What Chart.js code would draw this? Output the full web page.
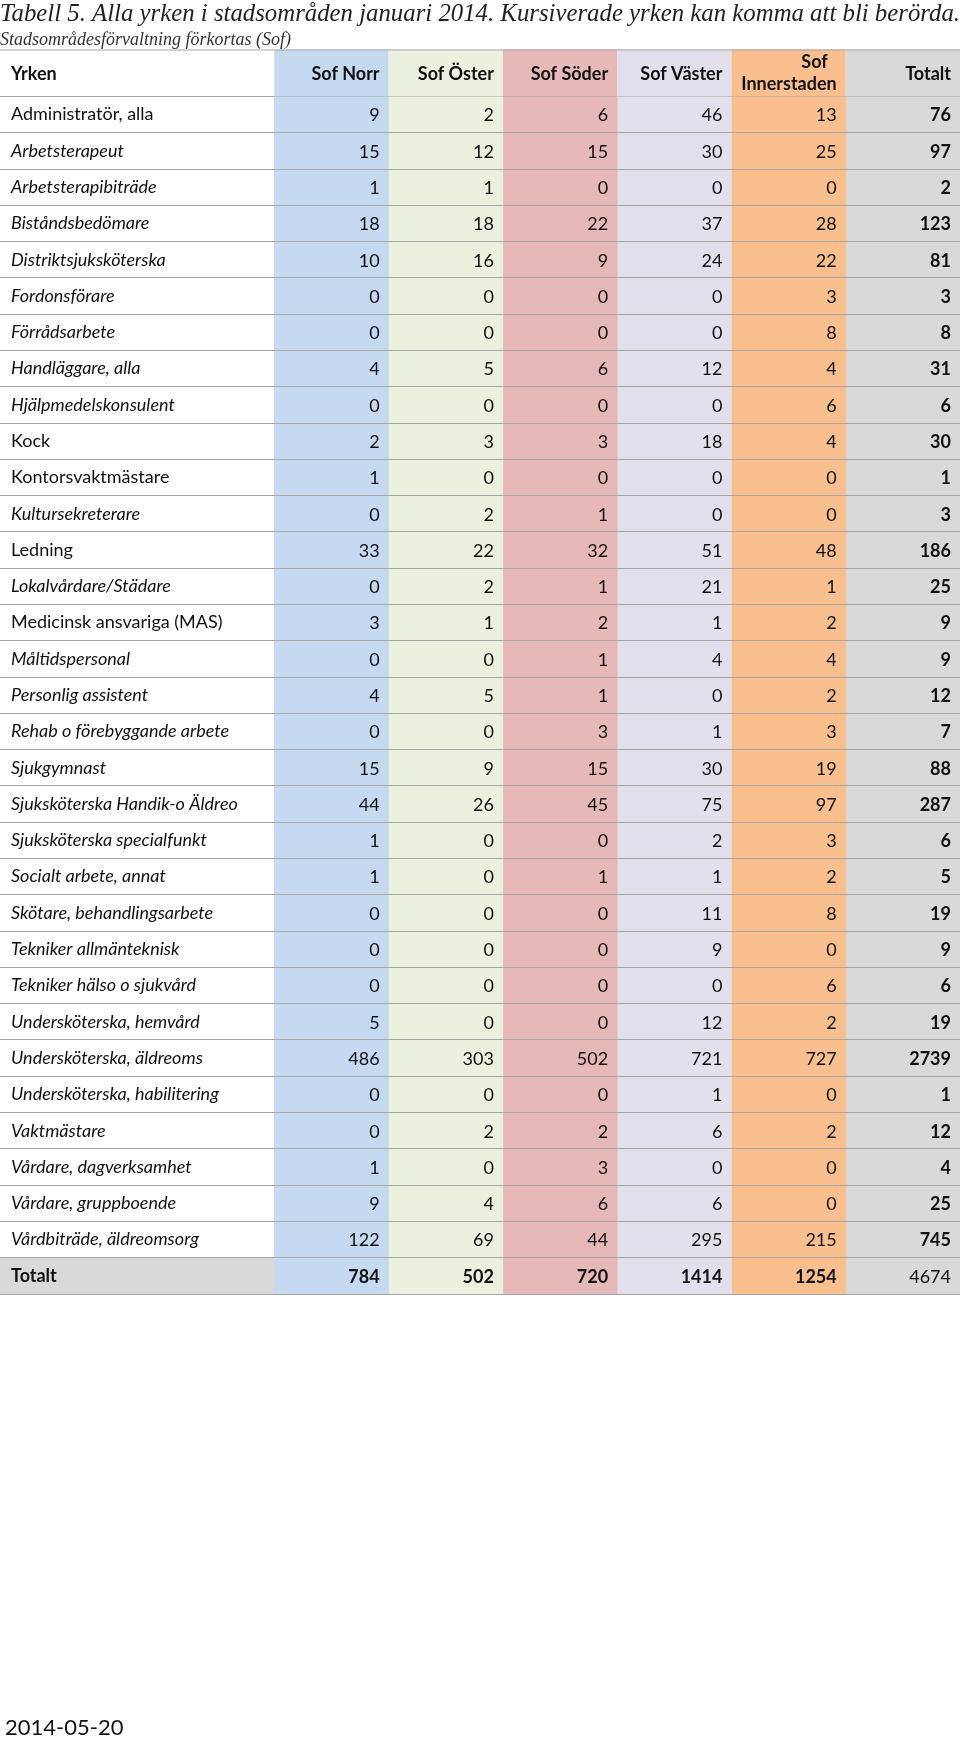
<!DOCTYPE html>
<html>
<head>
<meta charset="utf-8">
<script src="https://cdn.jsdelivr.net/npm/chart.js@4/dist/chart.umd.min.js"></script>
<style>
  html, body { margin: 0; padding: 0; background: #fff; }
  #wrap { position: relative; width: 960px; height: 1742px; }
  #datum { position: absolute; left: 5px; top: 1713px; font-family: Lato, sans-serif; font-size: 22px; color: #111; }
</style>
</head>
<body>
<div id="wrap">
  <canvas id="tabell" width="960" height="1742"></canvas>
  <div id="datum">2014-05-20</div>
</div>
<script>
// Tabell 5 - data
const yrken = [
    "Administratör, alla", "Arbetsterapeut", "Arbetsterapibiträde", "Biståndsbedömare",
    "Distriktsjuksköterska", "Fordonsförare", "Förrådsarbete", "Handläggare, alla",
    "Hjälpmedelskonsulent", "Kock", "Kontorsvaktmästare", "Kultursekreterare", "Ledning",
    "Lokalvårdare/Städare", "Medicinsk ansvariga (MAS)", "Måltidspersonal", "Personlig assistent",
    "Rehab o förebyggande arbete", "Sjukgymnast", "Sjuksköterska Handik-o Äldreo",
    "Sjuksköterska specialfunkt", "Socialt arbete, annat", "Skötare, behandlingsarbete",
    "Tekniker allmänteknisk", "Tekniker hälso o sjukvård", "Undersköterska, hemvård",
    "Undersköterska, äldreoms", "Undersköterska, habilitering", "Vaktmästare",
    "Vårdare, dagverksamhet", "Vårdare, gruppboende", "Vårdbiträde, äldreomsorg"
];
// 1 = kursiverat yrke (kan komma att bli berört)
const kursiv = [0,1,1,1,1,1,1,1,1,0,0,1,0,1,0,1,1,1,1,1,1,1,1,1,1,1,1,1,1,1,1,1];

const omraden = ["Sof Norr", "Sof Öster", "Sof Söder", "Sof Väster", "Sof Innerstaden", "Totalt"];

const sofNorr        = [9,15,1,18,10,0,0,4,0,2,1,0,33,0,3,0,4,0,15,44,1,1,0,0,0,5,486,0,0,1,9,122];
const sofOster       = [2,12,1,18,16,0,0,5,0,3,0,2,22,2,1,0,5,0,9,26,0,0,0,0,0,0,303,0,2,0,4,69];
const sofSoder       = [6,15,0,22,9,0,0,6,0,3,0,1,32,1,2,1,1,3,15,45,0,1,0,0,0,0,502,0,2,3,6,44];
const sofVaster      = [46,30,0,37,24,0,0,12,0,18,0,0,51,21,1,4,0,1,30,75,2,1,11,9,0,12,721,1,6,0,6,295];
const sofInnerstaden = [13,25,0,28,22,3,8,4,6,4,0,0,48,1,2,4,2,3,19,97,3,2,8,0,6,2,727,0,2,0,0,215];
const totalt         = [76,97,2,123,81,3,8,31,6,30,1,3,186,25,9,9,12,7,88,287,6,5,19,9,6,19,2739,1,12,4,25,745];
const totaltRad      = [784, 502, 720, 1414, 1254, 4674];

// Layout of the table on the x scale (units: label column + one unit per area)
const LABEL_COL = 2.4;
const FARGER = ["#c5d9f1", "#ebf1de", "#e6b8b7", "#e4dfec", "#fabf8f", "#d9d9d9"];
const FONT = "Lato, 'Open Sans', sans-serif";
const SIZE = 18;
const HEADER_H = 47;

const rader = [...yrken, "Totalt"];
const sista = rader.length - 1;
const kolumner = [sofNorr, sofOster, sofSoder, sofVaster, sofInnerstaden, totalt];

const datasets = kolumner.map((varden, i) => ({
    label: omraden[i],
    data: rader.map(() => [LABEL_COL + i, LABEL_COL + i + 1]),
    values: [...varden, totaltRad[i]],
    backgroundColor: FARGER[i],
}));
// grey label cell on the "Totalt" row
datasets.push({
    label: "Totalt-rad",
    data: rader.map((_, r) => r === sista ? [0, LABEL_COL] : null),
    backgroundColor: "#d9d9d9",
});

const tabellText = {
    id: "tabellText",
    afterDraw(chart) {
        const ctx = chart.ctx;
        const x = chart.scales.x;
        const y = chart.scales.y;
        const top = chart.chartArea.top;
        const hTop = top - HEADER_H;

        ctx.save();
        // header cells
        omraden.forEach((namn, i) => {
            const x0 = x.getPixelForValue(LABEL_COL + i);
            const x1 = x.getPixelForValue(LABEL_COL + i + 1);
            ctx.fillStyle = FARGER[i];
            ctx.fillRect(x0, hTop, x1 - x0, HEADER_H);
        });
        ctx.strokeStyle = "#a6a6a6";
        ctx.lineWidth = 1;
        ctx.beginPath();
        ctx.moveTo(chart.chartArea.left, hTop + 0.5);
        ctx.lineTo(chart.chartArea.right, hTop + 0.5);
        ctx.stroke();

        ctx.fillStyle = "#111";
        ctx.font = "bold " + SIZE + "px " + FONT;
        ctx.textBaseline = "alphabetic";
        ctx.textAlign = "left";
        ctx.fillText("Yrken", x.getPixelForValue(0) + 11, top - 16);
        ctx.textAlign = "right";
        omraden.forEach((namn, i) => {
            const x0 = x.getPixelForValue(LABEL_COL + i);
            const x1 = x.getPixelForValue(LABEL_COL + i + 1);
            if (ctx.measureText(namn).width > x1 - x0 - 18) {
                const delar = namn.split(" ");
                ctx.fillText(delar[0], x1 - 18, top - 28);
                ctx.fillText(delar.slice(1).join(" "), x1 - 9, top - 6);
            } else {
                ctx.fillText(namn, x1 - 9, top - 16);
            }
        });

        // cell values
        ctx.textBaseline = "middle";
        datasets.forEach((ds, i) => {
            if (!ds.values) return;
            const xr = x.getPixelForValue(LABEL_COL + i + 1) - 9;
            ds.values.forEach((v, r) => {
                const fet = (i === omraden.length - 1) !== (r === sista);
                ctx.font = (fet ? "bold " : "") + SIZE + "px " + FONT;
                ctx.fillText(v, xr, y.getPixelForValue(r) + 1);
            });
        });
        ctx.restore();
    }
};

new Chart(document.getElementById("tabell"), {
    type: "bar",
    data: { labels: rader, datasets: datasets },
    options: {
        indexAxis: "y",
        responsive: false,
        animation: false,
        devicePixelRatio: 1,
        events: [],
        grouped: false,
        barPercentage: 1,
        categoryPercentage: 1,
        borderWidth: 0,
        layout: { padding: { top: 0, left: 0, right: 0, bottom: 448 } },
        scales: {
            x: { type: "linear", min: 0, max: LABEL_COL + omraden.length, display: false },
            y: {
                type: "category",
                offset: true,
                afterFit: (scale) => { scale.width = 0; },
                border: { display: false },
                grid: { offset: true, drawTicks: false, color: "#a6a6a6", lineWidth: 1, z: 1 },
                ticks: {
                    autoSkip: false,
                    mirror: true,
                    padding: 11,
                    z: 1,
                    color: "#111",
                    font: (c) => ({
                        family: FONT,
                        size: SIZE,
                        style: kursiv[c.index] ? "italic" : "normal",
                        weight: c.index === sista ? "bold" : "normal",
                    }),
                },
            },
        },
        plugins: {
            legend: { display: false },
            tooltip: { enabled: false },
            title: {
                display: true,
                align: "start",
                text: "Tabell 5. Alla yrken i stadsområden januari 2014. Kursiverade yrken kan komma att bli berörda.",
                color: "#222",
                font: { family: "'Liberation Serif', serif", style: "italic", weight: "normal", size: 26, lineHeight: 1.08 },
                padding: { top: 0, bottom: 0 },
            },
            subtitle: {
                display: true,
                align: "start",
                text: "Stadsområdesförvaltning förkortas (Sof)",
                color: "#333",
                font: { family: "'Liberation Serif', serif", style: "italic", weight: "normal", size: 18, lineHeight: 1.3 },
                padding: { top: 0, bottom: 45 },
            },
        },
    },
    plugins: [tabellText],
});
</script>
</body>
</html>
